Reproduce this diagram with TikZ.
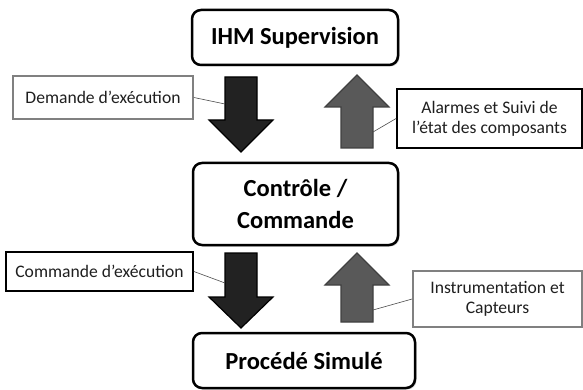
\documentclass[tikz,border=0pt]{standalone}
\usepackage{fontspec}
\setmainfont{Carlito}
\usetikzlibrary{shadows}

\definecolor{darkarrow}{HTML}{222222}
\definecolor{greyarrow}{HTML}{595959}
\definecolor{greyline}{HTML}{404040}
\definecolor{labelgrey}{HTML}{808080}

\tikzset{
    block/.style={draw, line width=2.5pt, rounded corners=9pt, fill=white,
        drop shadow={shadow xshift=1.5pt, shadow yshift=-1.5pt, opacity=0.35},
        font=\fontsize{24.5}{32}\selectfont\bfseries, align=center, inner sep=0pt},
    note/.style={draw, line width=1.8pt, fill=white, align=center, inner sep=0pt,
        font=\fontsize{17.6}{20}\selectfont, text=black!88},
    downarrow/.style={draw=black, line width=1.2pt, fill=darkarrow},
    uparrow/.style={draw=greyline, line width=1.2pt, fill=greyarrow},
    leader/.style={draw=black!70, line width=0.6pt}
}

\begin{document}
\begin{tikzpicture}[x=1pt, y=-1pt]
    \useasboundingbox (0,0) rectangle (583,390);

    % Main blocks
    \node[block, minimum width=206, minimum height=55] (ihm) at (295,37.5) {IHM Supervision};
    \node[block, minimum width=205, minimum height=82] (ctrl) at (295.5,204) {Contrôle /\\Commande};
    \node[block, minimum width=222, minimum height=55] (proc) at (304,360.5) {Procédé Simulé};

    % Big arrows
    \draw[downarrow] (225,77) -- (257,77) -- (257,120) -- (273,120) -- (241,152)
        -- (209,120) -- (225,120) -- cycle;
    \draw[uparrow] (341,148) -- (373,148) -- (373,107) -- (389,107) -- (357,75)
        -- (325,107) -- (341,107) -- cycle;
    \draw[downarrow] (225,253) -- (257,253) -- (257,297) -- (273,297) -- (241,328)
        -- (209,297) -- (225,297) -- cycle;
    \draw[uparrow] (341,322) -- (373,322) -- (373,285) -- (389,285) -- (357,253)
        -- (325,285) -- (341,285) -- cycle;
    \coordinate (dem) at (225,104);
    \coordinate (ala) at (373,132);
    \coordinate (com) at (225,283);
    \coordinate (ins) at (373,310);

    % Labels
    \node[note, draw=labelgrey, minimum width=180, minimum height=43] (demande) at (103,97.5)
        {Demande d’exécution};
    \node[note, minimum width=185, minimum height=59] (alarmes) at (489.5,118.5)
        {Alarmes et Suivi de\\l’état des composants};
    \node[note, minimum width=187, minimum height=39] (commande) at (99.5,271.5)
        {Commande d’exécution};
    \node[note, draw=labelgrey, minimum width=169, minimum height=56] (instru) at (497.5,299)
        {Instrumentation et\\Capteurs};

    \draw[leader] (demande.east) -- (dem);
    \draw[leader] (alarmes.west) -- (ala);
    \draw[leader] (commande.east) -- (com);
    \draw[leader] (instru.west) -- (ins);
\end{tikzpicture}
\end{document}
